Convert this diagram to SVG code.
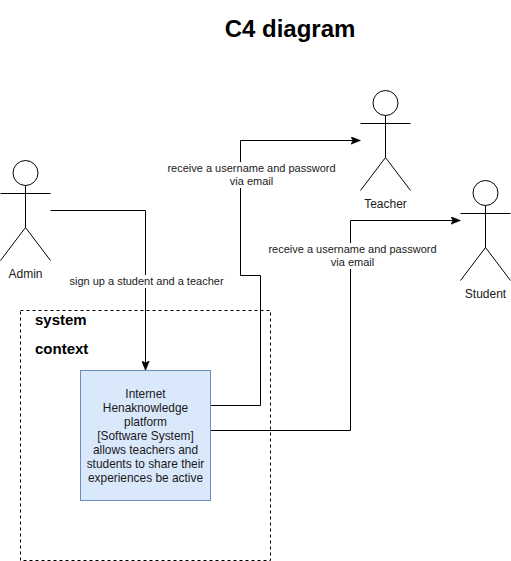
<svg xmlns="http://www.w3.org/2000/svg" width="511" height="561" viewBox="0 0 511 561">
<style>
text{font-family:"Liberation Sans",Arial,sans-serif;fill:#000}
.a{fill:#fff;stroke:#000;stroke-width:1}
.l{fill:none;stroke:#000;stroke-width:1}
.c{font-size:12px;text-anchor:middle;fill:#1a1a1a}
.t{font-size:11.9px;text-anchor:middle;fill:#1a1a1a}
.e{font-size:11px;text-anchor:middle;fill:#1a1a1a}
.b{font-size:15px;font-weight:bold}
.bg{fill:#fff}
</style>
<defs>
<marker id="arr" viewBox="0 0 10 8" refX="9.5" refY="4" markerWidth="10" markerHeight="8" markerUnits="userSpaceOnUse" orient="auto"><path d="M0 0L10 4L0 8L2.5 4Z" fill="#000" stroke="#000" stroke-width="0.5"/></marker>
<g id="actor"><ellipse class="a" cx="25" cy="12.5" rx="12.5" ry="12.5"/><path class="l" d="M25 25V67M0 33H50M25 67L0 100M25 67L50 100"/></g>
</defs>
<rect width="511" height="561" fill="#fff"/>
<text id="title" x="290" y="37" font-size="24" font-weight="bold" text-anchor="middle">C4 diagram</text>
<g id="system-context">
<rect x="20.5" y="310.5" width="250" height="250" fill="none" stroke="#000" stroke-dasharray="3 3"/>
<text class="b" x="35" y="325">system</text>
<text class="b" x="35" y="354">context</text>
</g>
<g id="connectors">
<path class="l" marker-end="url(#arr)" d="M50.5 210.5H145.5V370"/>
<path class="l" marker-end="url(#arr)" d="M210.5 405.5H260.5V275.5H240.5V140.5H360"/>
<path class="l" marker-end="url(#arr)" d="M210.5 430.5H350.5V220.5H460"/>
<rect class="bg" x="69" y="275" width="155" height="13"/>
<text class="e" x="146.500" y="285">sign up a student and a teacher</text>
<rect class="bg" x="167" y="162" width="169" height="26"/>
<text class="e" x="251.500" y="172">receive a username and password</text>
<text class="e" x="251.500" y="185">via email</text>
<rect class="bg" x="268" y="243" width="169" height="26"/>
<text class="e" x="352.500" y="253">receive a username and password</text>
<text class="e" x="352.500" y="266">via email</text>
</g>
<g id="admin"><use href="#actor" x="0.5" y="160.5"/><text class="c" x="25.500" y="278">Admin</text></g>
<g id="teacher"><use href="#actor" x="360.5" y="90.5"/><text class="c" x="385.500" y="208">Teacher</text></g>
<g id="student"><use href="#actor" x="460.5" y="180.5"/><text class="c" x="485.500" y="298">Student</text></g>
<g id="platform">
<rect x="80.500" y="370.500" width="130" height="130" fill="#dae8fc" stroke="#6c8ebf"/>
<text class="t" x="145.500" y="398">Internet</text>
<text class="t" x="145.500" y="412">Henaknowledge</text>
<text class="t" x="145.500" y="426">platform</text>
<text class="t" x="145.500" y="440">[Software System]</text>
<text class="t" x="145.500" y="454">allows teachers and</text>
<text class="t" x="145.500" y="468">students to share their</text>
<text class="t" x="145.500" y="482">experiences be active</text>
</g>
</svg>
